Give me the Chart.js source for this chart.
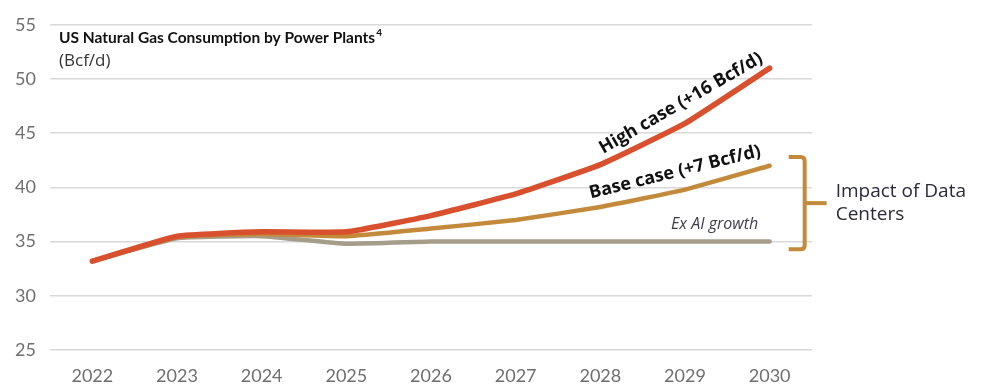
<!DOCTYPE html>
<html>
<head>
<meta charset="utf-8">
<script src="https://cdn.jsdelivr.net/npm/chart.js@4"></script>
<style>
  html, body { margin: 0; padding: 0; background: #fff; }
  #wrap { width: 989px; height: 384px; position: relative; }
</style>
</head>
<body>
<div id="wrap"><canvas id="grafico"></canvas></div>
<script>
// dados
const anos = ['2022', '2023', '2024', '2025', '2026', '2027', '2028', '2029', '2030'];
const casoAlto = [33.2, 35.5, 35.9, 35.9, 37.4, 39.4, 42.1, 45.9, 51.0];
const casoBase = [33.2, 35.4, 35.7, 35.5, 36.2, 37.0, 38.2, 39.8, 42.0];
const semIA = [33.2, 35.3, 35.5, 34.8, 35.0, 35.0, 35.0, 35.0, 35.0];
const ticksY = [25, 30, 35, 40, 45, 50, 55];

const corAlto = '#D9502E';
const corBase = '#C48A3C';
const corSemIA = '#A59D8A';

const anotacoes = {
  id: 'anotacoes',
  afterDatasetsDraw(chart) {
    const { ctx } = chart;
    const x = chart.scales.x;
    const y = chart.scales.y;

    ctx.save();
    // título
    ctx.fillStyle = '#111';
    ctx.textAlign = 'left';
    ctx.textBaseline = 'middle';
    ctx.font = 'bold 15.5px Lato, "DejaVu Sans", sans-serif';
    ctx.fillText('US Natural Gas Consumption by Power Plants', 59, 38);
    const w = ctx.measureText('US Natural Gas Consumption by Power Plants').width;
    ctx.font = 'bold 10px Lato, "DejaVu Sans", sans-serif';
    ctx.fillText('4', 59 + w + 1, 33);
    ctx.font = '17px "Open Sans", "DejaVu Sans", sans-serif';
    ctx.fillStyle = '#333';
    ctx.fillText('(Bcf/d)', 59, 61);

    // rótulos das séries
    ctx.textAlign = 'center';
    ctx.fillStyle = '#111';
    ctx.font = 'bold 18px "Open Sans", "DejaVu Sans", sans-serif';
    ctx.save();
    ctx.translate(x.getPixelForValue(7) - 4, y.getPixelForValue(46) - 19);
    ctx.rotate(-30 * Math.PI / 180);
    ctx.fillText('High case (+16 Bcf/d)', 0, 0);
    ctx.restore();

    ctx.save();
    ctx.translate(x.getPixelForValue(7) - 10, y.getPixelForValue(41.3) - 1);
    ctx.rotate(-14 * Math.PI / 180);
    ctx.fillText('Base case (+7 Bcf/d)', 0, 0);
    ctx.restore();

    ctx.font = 'italic 16px "Open Sans", "DejaVu Sans", sans-serif';
    ctx.fillStyle = '#3c3c4c';
    ctx.fillText('Ex AI growth', x.getPixelForValue(7.35), y.getPixelForValue(36.5) - 1);

    // chave "Impact of Data Centers"
    const bx = x.getPixelForValue(8) + 35;
    const yTopo = y.getPixelForValue(42.8);
    const yBase = y.getPixelForValue(34.3);
    const yMeio = (yTopo + yBase) / 2;
    ctx.strokeStyle = corBase;
    ctx.lineWidth = 4;
    ctx.lineJoin = 'round';
    ctx.beginPath();
    ctx.moveTo(bx - 16, yTopo);
    ctx.lineTo(bx - 4, yTopo);
    ctx.quadraticCurveTo(bx, yTopo, bx, yTopo + 4);
    ctx.lineTo(bx, yBase - 4);
    ctx.quadraticCurveTo(bx, yBase, bx - 4, yBase);
    ctx.lineTo(bx - 16, yBase);
    ctx.stroke();
    ctx.beginPath();
    ctx.moveTo(bx, yMeio);
    ctx.lineTo(bx + 22, yMeio);
    ctx.stroke();

    ctx.fillStyle = '#2a2a3a';
    ctx.textAlign = 'left';
    ctx.font = '19px "Open Sans", "DejaVu Sans", sans-serif';
    ctx.fillText('Impact of Data', bx + 31, yMeio - 12);
    ctx.fillText('Centers', bx + 31, yMeio + 11);
    ctx.restore();
  }
};

new Chart(document.getElementById('grafico'), {
  type: 'line',
  data: {
    labels: anos,
    datasets: [
      { label: 'High case', data: casoAlto, borderColor: corAlto, borderWidth: 5.5 },
      { label: 'Base case', data: casoBase, borderColor: corBase, borderWidth: 4.5 },
      { label: 'Ex AI growth', data: semIA, borderColor: corSemIA, borderWidth: 4.5 }
    ]
  },
  options: {
    responsive: true,
    maintainAspectRatio: false,
    animation: false,
    layout: { padding: { top: 22, right: 177, left: 0, bottom: 0 } },
    elements: {
      point: { radius: 0 },
      line: { tension: 0.12, borderCapStyle: 'round', borderJoinStyle: 'round' }
    },
    scales: {
      x: {
        offset: true,
        grid: { display: false },
        border: { display: false },
        ticks: { color: '#6f6f6f', font: { size: 18, family: 'Lato, "DejaVu Sans", sans-serif' }, padding: 7 },
        afterFit: (s) => { s.height = 34; }
      },
      y: {
        min: 25,
        max: 55,
        afterBuildTicks: (s) => { s.ticks = ticksY.map(v => ({ value: v })); },
        grid: { color: '#d9d9d9', lineWidth: 1.5, drawTicks: false },
        border: { display: false },
        ticks: { color: '#6f6f6f', font: { size: 18, family: 'Lato, "DejaVu Sans", sans-serif' }, padding: 14 },
        afterFit: (s) => { s.width = 50; }
      }
    },
    plugins: {
      legend: { display: false },
      tooltip: { enabled: false }
    }
  },
  plugins: [anotacoes]
});
</script>
</body>
</html>
